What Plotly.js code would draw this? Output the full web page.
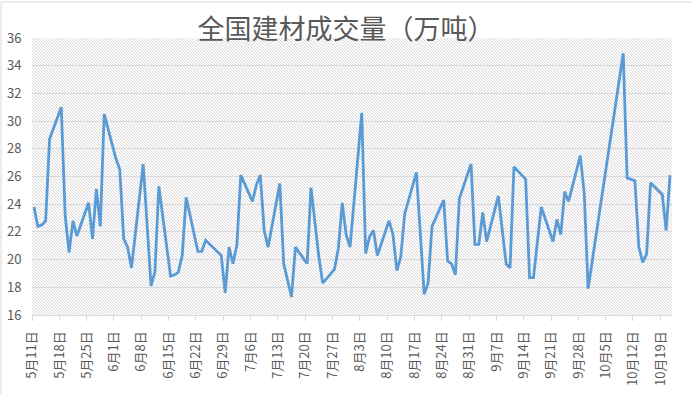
<!DOCTYPE html>
<html>
<head>
<meta charset="utf-8">
<script src="https://cdn.plot.ly/plotly-3.0.1.min.js"></script>
<style>
  html, body { margin: 0; padding: 0; background: #ffffff; }
  #chart { width: 692px; height: 395px; }
</style>
</head>
<body>
<div id="chart"></div>
<script>
// ---- data (2020, trading days) ----
const year = 2020;
const dates = [
  "05-11","05-12","05-13","05-14","05-15",
  "05-18","05-19","05-20","05-21","05-22",
  "05-25","05-26","05-27","05-28","05-29",
  "06-01","06-02","06-03","06-04","06-05",
  "06-08","06-10","06-11","06-12",
  "06-15","06-16","06-17","06-18","06-19",
  "06-22","06-23","06-24","06-28",
  "06-29","06-30","07-01","07-02","07-03",
  "07-06","07-07","07-08","07-09","07-10",
  "07-13","07-14","07-16","07-17",
  "07-20","07-21","07-22","07-23","07-24",
  "07-27","07-28","07-29","07-30","07-31",
  "08-03","08-04","08-05","08-06","08-07",
  "08-10","08-11","08-12","08-13","08-14",
  "08-17","08-19","08-20","08-21",
  "08-24","08-25","08-26","08-27","08-28",
  "08-31","09-01","09-02","09-03","09-04",
  "09-07","09-09","09-10","09-11",
  "09-14","09-15","09-16","09-18",
  "09-21","09-22","09-23","09-24","09-25",
  "09-28","09-29","09-30",
  "10-09","10-10",
  "10-12","10-13","10-14","10-15","10-16",
  "10-19","10-20","10-21"
];
const values = [
  23.8, 22.4, 22.5, 22.8, 28.7,
  31.0, 23.2, 20.5, 22.8, 21.7,
  24.1, 21.5, 25.1, 22.4, 30.5,
  27.3, 26.5, 21.5, 20.9, 19.4,
  26.9, 18.1, 19.1, 25.3,
  18.8, 18.9, 19.1, 20.3, 24.5,
  20.6, 20.6, 21.4, 20.3,
  17.6, 20.9, 19.7, 21.05, 26.1,
  24.2, 25.4, 26.1, 22.1, 20.9,
  25.5, 19.7, 17.3, 20.9,
  19.7, 25.2, 22.6, 20.2, 18.3,
  19.3, 20.8, 24.1, 21.8, 20.9,
  30.6, 20.45, 21.65, 22.1, 20.3,
  22.8, 21.8, 19.2, 20.2, 23.3,
  26.3, 17.5, 18.3, 22.4,
  24.3, 19.9, 19.7, 18.9, 24.4,
  26.9, 21.1, 21.1, 23.4, 21.3,
  24.6, 19.7, 19.4, 26.7,
  25.8, 18.7, 18.7, 23.8,
  21.3, 22.9, 21.8, 24.9, 24.2,
  27.5, 24.8, 17.9,
  34.9, 25.9,
  25.7, 20.9, 19.8, 20.4, 25.55,
  24.7, 22.1, 26.1
];
const tickDates = [
  "05-11","05-18","05-25","06-01","06-08","06-15","06-22","06-29",
  "07-06","07-13","07-20","07-27","08-03","08-10","08-17","08-24",
  "08-31","09-07","09-14","09-21","09-28","10-05","10-12","10-19"
];
const tickLabels = [
  "5月11日","5月18日","5月25日","6月1日","6月8日","6月15日","6月22日","6月29日",
  "7月6日","7月13日","7月20日","7月27日","8月3日","8月10日","8月17日","8月24日",
  "8月31日","9月7日","9月14日","9月21日","9月28日","10月5日","10月12日","10月19日"
];
const yTicks = [16, 18, 20, 22, 24, 26, 28, 30, 32, 34, 36];
const titleText = "全国建材成交量（万吨）";

// ---- layout geometry ----
const W = 692, H = 395, L = 32, R = 20, T = 38, B = 80;
const PW = W - L - R, PH = H - T - B;

// points sit in the middle of their day slot (date axis)
const xs = dates.map(d => `${year}-${d} 12:00`);
const tickVals = tickDates.map(d => `${year}-${d}`);

const hatch = `<svg xmlns='http://www.w3.org/2000/svg' width='${PW}' height='${PH}'>` +
  `<defs><pattern id='p' width='3' height='3' patternUnits='userSpaceOnUse'>` +
  `<path d='M-1,-1 L4,4 M-1,2 L1,4 M2,-1 L4,1' stroke='#cbcbcb' stroke-width='0.8'/>` +
  `</pattern></defs><rect width='100%' height='100%' fill='white'/><rect width='100%' height='100%' fill='url(#p)'/></svg>`;
const hatchUri = 'data:image/svg+xml;charset=utf-8,' + encodeURIComponent(hatch);

const px = v => (v - L) / PW;
const py = v => (H - B - v) / PH;

const trace = {
  x: xs,
  y: values,
  type: 'scatter',
  mode: 'lines',
  line: { color: '#5B9BD5', width: 2.8 },
  hoverinfo: 'x+y'
};

const font = "'Noto Sans CJK SC', 'Noto Sans', sans-serif";

const layout = {
  width: W,
  height: H,
  margin: { l: L, r: R, t: T, b: B, pad: 0 },
  paper_bgcolor: '#ffffff',
  plot_bgcolor: 'rgba(0,0,0,0)',
  showlegend: false,
  title: {
    text: titleText,
    font: { family: font, size: 27, color: '#595959' },
    x: 0.5, xanchor: 'center',
    y: 1 - 30 / H, yanchor: 'middle'
  },
  xaxis: {
    type: 'date',
    range: [`${year}-05-11`, `${year}-10-22`],
    tickmode: 'array',
    tickvals: tickVals,
    ticktext: tickLabels,
    tickangle: -90,
    ticks: 'outside',
    ticklen: 5,
    tickcolor: '#d9d9d9',
    ticklabelstandoff: 5,
    showgrid: false,
    showline: true,
    linecolor: '#d9d9d9',
    linewidth: 1,
    zeroline: false,
    tickfont: { family: font, size: 13, color: '#595959' },
    fixedrange: true
  },
  yaxis: {
    range: [16, 36],
    tickmode: 'array',
    tickvals: yTicks,
    ticktext: yTicks.map(String),
    showgrid: true,
    gridcolor: '#d9d9d9',
    gridwidth: 1,
    showline: false,
    zeroline: false,
    ticks: 'outside',
    ticklen: 7,
    tickcolor: 'rgba(0,0,0,0)',
    tickfont: { family: font, size: 13, color: '#595959' },
    fixedrange: true
  },
  images: [{
    source: hatchUri,
    xref: 'paper', yref: 'paper',
    x: 0, y: 1, sizex: 1, sizey: 1,
    xanchor: 'left', yanchor: 'top',
    sizing: 'stretch',
    layer: 'below'
  }],
  shapes: [{
    type: 'rect',
    xref: 'paper', yref: 'paper',
    x0: px(1), x1: px(W + 5),
    y0: py(2), y1: py(H + 5),
    line: { color: '#d9d9d9', width: 1 },
    fillcolor: 'rgba(0,0,0,0)',
    layer: 'below'
  }]
};

Plotly.newPlot('chart', [trace], layout, { staticPlot: true, displayModeBar: false });
</script>
</body>
</html>
